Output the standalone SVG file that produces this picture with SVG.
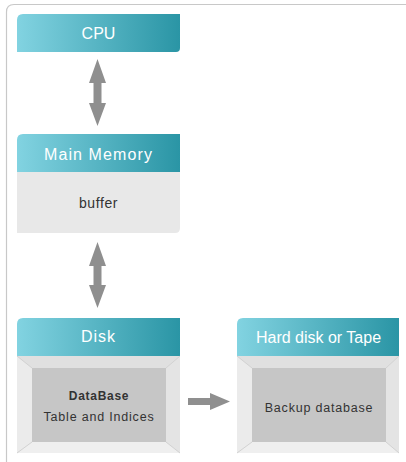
<svg xmlns="http://www.w3.org/2000/svg" width="406" height="462" viewBox="0 0 406 462">
<defs>
<linearGradient id="hdr" x1="0" y1="0" x2="1" y2="0">
<stop offset="0" stop-color="#82d3e1"/>
<stop offset="1" stop-color="#2a95a5"/>
</linearGradient>
<style>
.frame{fill:none;stroke:#c8c8c8;stroke-width:1.2}
.hdr{fill:url(#hdr)}
.htxt{font-family:"Liberation Sans",Arial,sans-serif;font-size:16px;fill:#ffffff;text-anchor:middle}
.btxt{font-family:"Liberation Sans",Arial,sans-serif;font-size:12.5px;fill:#333333;text-anchor:middle;letter-spacing:0.8px}
.body{fill:#e8e8e8}
.bevout{fill:#ebebeb}
.bevtop{fill:#e0e0e0}
.bevright{fill:#e4e4e4}
.bevbot{fill:#efefef}
.bevline{stroke:#d2d2d2;stroke-width:1;fill:none}
.inner{fill:#c6c6c6}
.arrow{fill:#8f8f8f}
</style>
</defs>
<rect width="406" height="462" fill="#ffffff"/>
<path class="frame" d="M6.5,462 V12 Q6.5,4.5 14,4.5 H406"/>

<g id="cpu">
<path class="hdr" d="M17,52 V20 Q17,14 23,14 H180 V48 Q180,52 176,52 Z"/>
<text class="htxt" x="98.5" y="38.5">CPU</text>
</g>

<g id="main-memory">
<path class="hdr" d="M17,172 V140 Q17,134 23,134 H180 V172 Z"/>
<path class="body" d="M17,172 H180 V228 Q180,233 175,233 H17 Z"/>
<text class="htxt" x="98.5" y="159.5" style="letter-spacing:1.1px">Main Memory</text>
<text class="btxt" x="98.5" y="208" style="font-size:14px;letter-spacing:0.6px">buffer</text>
</g>

<g id="disk">
<path class="hdr" d="M17,356 V324 Q17,318 23,318 H180 V356 Z"/>
<path class="bevout" d="M17,356 H180 V449 Q180,453 176,453 H17 Z"/>
<polygon class="bevtop" points="17,356 180,356 166,368 32,368"/>
<polygon class="bevright" points="180,356 180,453 166,442 166,368"/>
<polygon class="bevbot" points="17,453 180,453 166,442 32,442"/>
<path class="bevline" d="M17,356 L32,368 M180,356 L166,368 M180,453 L166,442 M17,453 L32,442"/>
<rect class="inner" x="32" y="368" width="134" height="74"/>
<text class="htxt" x="98.5" y="342" style="letter-spacing:1px">Disk</text>
<text class="btxt" x="99" y="400" style="font-weight:bold;font-size:12px;letter-spacing:0.7px">DataBase</text>
<text class="btxt" x="99" y="420.5">Table and Indices</text>
</g>

<g id="hard-disk-or-tape">
<path class="hdr" d="M237,356 V324 Q237,318 243,318 H399 V356 Z"/>
<path class="bevout" d="M237,356 H399 V449 Q399,453 395,453 H237 Z"/>
<polygon class="bevtop" points="237,356 399,356 386,368 252,368"/>
<polygon class="bevright" points="399,356 399,453 386,442 386,368"/>
<polygon class="bevbot" points="237,453 399,453 386,442 252,442"/>
<path class="bevline" d="M237,356 L252,368 M399,356 L386,368 M399,453 L386,442 M237,453 L252,442"/>
<rect class="inner" x="252" y="368" width="134" height="74"/>
<text class="htxt" x="318.5" y="342.5">Hard disk or Tape</text>
<text class="btxt" x="319" y="412">Backup database</text>
</g>

<g id="connectors">
<polygon class="arrow" points="97.5,59 106,83 101.5,83 101.5,103 106,103 97.5,126 89,103 93.5,103 93.5,83 89,83"/>
<polygon class="arrow" points="97.5,242 106,266 101.5,266 101.5,285 106,285 97.5,308 89,285 93.5,285 93.5,266 89,266"/>
<polygon class="arrow" points="188,398 210,398 210,393 230,401.5 210,410 210,405 188,405"/>
</g>
</svg>
